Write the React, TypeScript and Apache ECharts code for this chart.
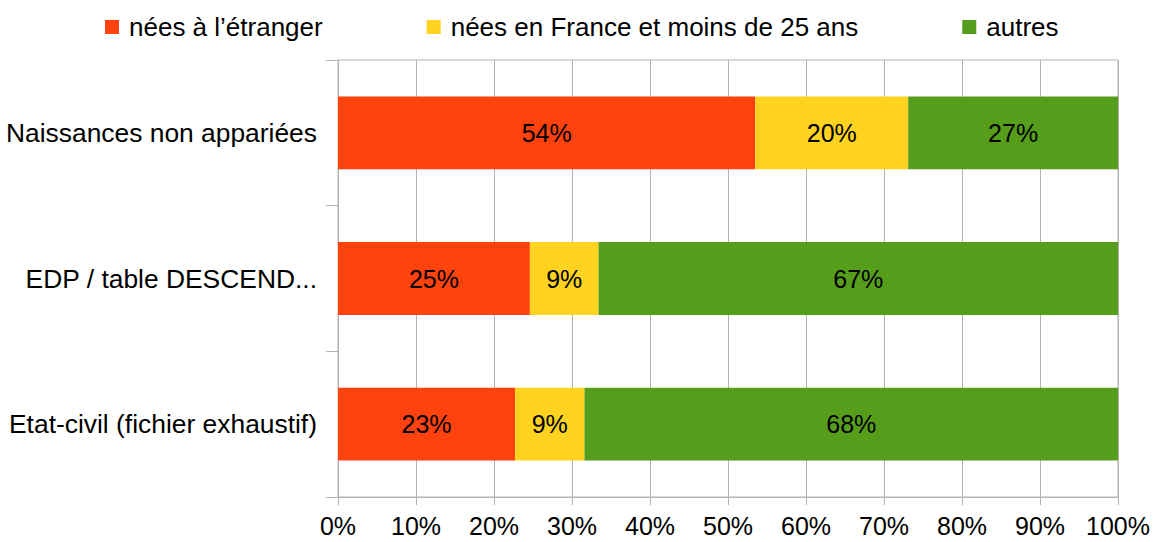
import React, { useEffect, useRef } from "react";
import * as echarts from "echarts";

const categories = [
  "Etat-civil (fichier exhaustif)",
  "EDP / table DESCEND...",
  "Naissances non appariées",
];
const seriesNames = [
  "nées à l’étranger",
  "nées en France et moins de 25 ans",
  "autres",
];
const etranger = [22.7, 24.6, 53.5];
const franceMoins25 = [8.9, 8.8, 19.6];
const autres = [68.4, 66.6, 26.9];
const colors = ["#ff420e", "#ffd320", "#579d1c"];
const xTicks = [0, 10, 20, 30, 40, 50, 60, 70, 80, 90, 100];

export default function App() {
  const ref = useRef<HTMLDivElement>(null);
  useEffect(() => {
    if (!ref.current) return;
    const chart = echarts.init(ref.current, undefined, { renderer: "svg" });
    const font = "'Liberation Sans', Arial, sans-serif";
    const values = [etranger, franceMoins25, autres];
    chart.setOption({
      animation: false,
      textStyle: { fontFamily: font },
      legend: {
        top: 9,
        left: 100,
        itemWidth: 14,
        itemHeight: 14,
        itemGap: 104,
        icon: "rect",
        textStyle: { fontSize: 26, color: "#000", fontFamily: font, padding: [0, 0, 0, 5] },
        data: seriesNames,
      },
      grid: {
        left: 338,
        right: 34,
        top: 60,
        bottom: 45,
        show: true,
        borderColor: "#b3b3b3",
        borderWidth: 1,
      },
      xAxis: {
        type: "value",
        min: 0,
        max: 100,
        interval: 10,
        axisLine: { show: true, lineStyle: { color: "#b3b3b3" } },
        axisTick: { show: true, length: 8, lineStyle: { color: "#b3b3b3" } },
        splitLine: { show: true, lineStyle: { color: "#b3b3b3" } },
        axisLabel: {
          fontSize: 25,
          color: "#000",
          margin: 16,
          fontFamily: font,
          formatter: (v: number) => (xTicks.includes(v) ? v + "%" : ""),
        },
      },
      yAxis: {
        type: "category",
        data: categories,
        axisLine: { show: true, lineStyle: { color: "#b3b3b3" } },
        axisTick: { show: true, length: 12, lineStyle: { color: "#b3b3b3" } },
        axisLabel: { fontSize: 26.4, color: "#000", margin: 21, fontFamily: font },
      },
      series: seriesNames.map((name, i) => ({
        name,
        type: "bar",
        stack: "total",
        barCategoryGap: "50%",
        itemStyle: { color: colors[i] },
        label: {
          show: true,
          position: "inside",
          color: "#000",
          fontSize: 25,
          fontFamily: font,
          formatter: (p: any) => Math.round(p.value) + "%",
        },
        data: values[i],
      })),
    });
    return () => chart.dispose();
  }, []);
  return (
    <div
      ref={ref}
      style={{ position: "fixed", left: 0, top: 0, width: 1153, height: 542, background: "#fff" }}
    />
  );
}
